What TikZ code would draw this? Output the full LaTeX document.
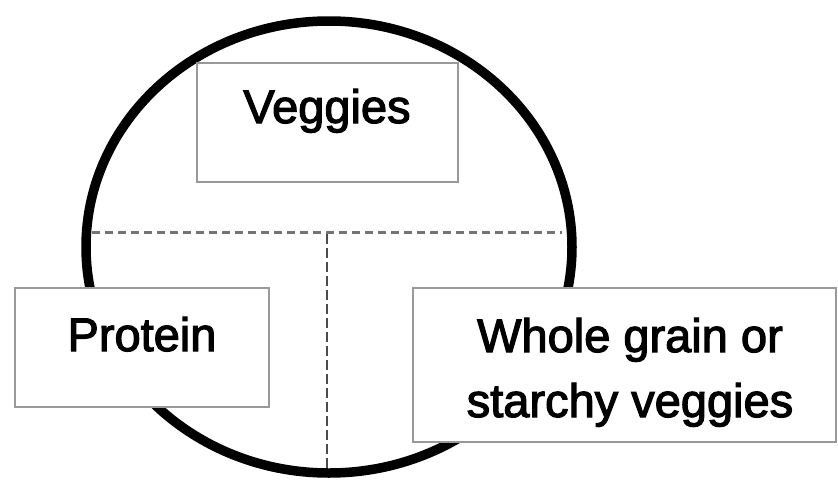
\documentclass[tikz,border=0pt]{standalone}
\usepackage{fontspec}
\setmainfont{Liberation Sans}
\newfontfamily\labelfont[FakeBold=2.5]{Liberation Sans}
\usetikzlibrary{shapes.geometric}
\begin{document}
\begin{tikzpicture}[x=1pt,y=-1pt,
  plate/.style={draw=black,line width=9.5pt},
  hdiv/.style={draw=black!55,line width=3pt,dash pattern=on 8pt off 5pt},
  vdiv/.style={draw=black!70,line width=1.5pt,dash pattern=on 10pt off 4pt},
  foodbox/.style={draw=black!40,line width=1.8pt,fill=white,rectangle,inner sep=0pt},
  label/.style={anchor=base,font=\labelfont\fontsize{47}{65}\selectfont,inner sep=0pt}]
\useasboundingbox (0,0) rectangle (838,482);
% plate
\node[plate,ellipse,minimum width=486pt,minimum height=452pt,inner sep=0pt] (plate) at (329,247) {};
% dividers
\coordinate (hl) at (92,232.5);
\coordinate (hr) at (562,232.5);
\coordinate (vt) at (327,234);
\coordinate (vb) at (327,470);
\draw[hdiv] (hl) -- (hr);
\draw[vdiv] (vt) -- (vb);
% boxes
\node[foodbox,minimum width=261pt,minimum height=119pt] (vegbox) at (327.5,122.5) {};
\node[foodbox,minimum width=254pt,minimum height=119pt] (probox) at (142,347.5) {};
\node[foodbox,minimum width=423pt,minimum height=154pt] (grainbox) at (624.5,365) {};
% texts
\node[label] (vegtext) at (327,123) {Veggies};
\node[label] (protext) at (142,351) {Protein};
\node[label] (graintext1) at (630,352) {Whole grain or};
\node[label] (graintext2) at (630,417) {starchy veggies};
\end{tikzpicture}
\end{document}
